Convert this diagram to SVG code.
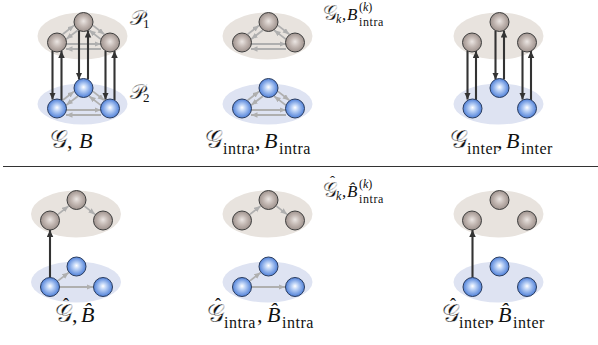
<svg xmlns="http://www.w3.org/2000/svg" xmlns:xlink="http://www.w3.org/1999/xlink" width="598" height="345" viewBox="0 0 598 345">
<style>
.gl{fill:#e8e3de}
.bl{fill:#dee3f2}
.gn{fill:url(#gg);stroke:#3d3d3d;stroke-width:1}
.bn{fill:url(#bg);stroke:#2a3c5e;stroke-width:1}
.dk{stroke:#333;stroke-width:2.1;fill:none;marker-end:url(#mdk)}
.lt{stroke:#afafaf;stroke-width:1.8;fill:none;marker-end:url(#mlt)}
text{font-family:'Liberation Serif',serif;fill:#111}
.m{font-size:22px}
.sm{font-size:16px;letter-spacing:0.5px}
.ss{font-size:12px;letter-spacing:0.6px}
.i{font-style:italic}
.cal{stroke:#fff;stroke-width:0.35px}
.big{font-size:25px}
.hat{font-size:18px}
</style>
<defs>
<radialGradient id="gg" cx="0.5" cy="0.5" r="0.5" fx="0.5" fy="0.45">
<stop offset="0" stop-color="#ebe6e3"/>
<stop offset="0.5" stop-color="#c4b9b4"/>
<stop offset="1" stop-color="#9e928d"/>
</radialGradient>
<radialGradient id="bg" cx="0.5" cy="0.5" r="0.5" fx="0.5" fy="0.45">
<stop offset="0" stop-color="#ffffff"/>
<stop offset="0.35" stop-color="#bcd2f6"/>
<stop offset="1" stop-color="#4f80d8"/>
</radialGradient>
<marker id="mdk" markerUnits="userSpaceOnUse" markerWidth="8" markerHeight="7" refX="7" refY="3.25" orient="auto"><path d="M0,0 L7,3.25 L0,6.5 z" fill="#333"/></marker>
<marker id="mlt" markerUnits="userSpaceOnUse" markerWidth="8" markerHeight="7" refX="6.5" refY="2.75" orient="auto"><path d="M0,0 L6.5,2.75 L0,5.5 z" fill="#afafaf"/></marker>
<g id="bi">
<line class="lt" x1="-20.8" y1="12.3" x2="-9.4" y2="3.4"/>
<line class="lt" x1="-5.7" y1="8.2" x2="-17.2" y2="17.1"/>
<line class="lt" x1="9.4" y1="3.4" x2="20.8" y2="12.3"/>
<line class="lt" x1="17.2" y1="17.1" x2="5.7" y2="8.2"/>
<line class="lt" x1="-17.5" y1="22" x2="17.5" y2="22"/>
<line class="lt" x1="17.5" y1="27" x2="-17.5" y2="27"/>
</g>
<g id="hg">
<line class="lt" x1="-18.6" y1="14.4" x2="-7.9" y2="6.1"/>
<line class="lt" x1="7.9" y1="6.1" x2="18.6" y2="14.4"/>
</g>
<g id="hb">
<line class="lt" x1="-18.6" y1="14.4" x2="-7.9" y2="6.1"/>
<line class="lt" x1="-16.5" y1="20.5" x2="16.5" y2="20.5"/>
</g>
</defs>

<g id="layers">
<ellipse class="gl" cx="82.5" cy="36" rx="45" ry="23.5"/>
<ellipse class="bl" cx="82.5" cy="104" rx="45" ry="20.5"/>
<ellipse class="gl" cx="267.5" cy="36" rx="45" ry="23.5"/>
<ellipse class="bl" cx="267.5" cy="104" rx="45" ry="20.5"/>
<ellipse class="gl" cx="498.5" cy="36" rx="45" ry="23.5"/>
<ellipse class="bl" cx="498.5" cy="104" rx="45" ry="20.5"/>
<ellipse class="gl" cx="76" cy="214" rx="45" ry="23.5"/>
<ellipse class="bl" cx="76" cy="282" rx="45" ry="20.5"/>
<ellipse class="gl" cx="267.5" cy="214" rx="45" ry="23.5"/>
<ellipse class="bl" cx="267.5" cy="282" rx="45" ry="20.5"/>
<ellipse class="gl" cx="498.5" cy="214" rx="45" ry="23.5"/>
<ellipse class="bl" cx="498.5" cy="282" rx="45" ry="20.5"/>
</g>

<line x1="3" y1="166.5" x2="598" y2="166.5" stroke="#333" stroke-width="1.2"/>

<g id="connectors">
<use xlink:href="#bi" x="83.5" y="22"/>
<use xlink:href="#bi" x="83.5" y="88"/>
<use xlink:href="#bi" x="268.5" y="22"/>
<use xlink:href="#bi" x="268.5" y="88"/>
<line class="dk" x1="52.5" y1="51" x2="52.5" y2="99.5"/>
<line class="dk" x1="61.5" y1="100" x2="61.5" y2="51"/>
<line class="dk" x1="79" y1="30.5" x2="79" y2="79.5"/>
<line class="dk" x1="88" y1="79.5" x2="88" y2="30.5"/>
<line class="dk" x1="105.5" y1="51" x2="105.5" y2="99.5"/>
<line class="dk" x1="114.5" y1="100" x2="114.5" y2="51"/>
<line class="dk" x1="467.5" y1="51" x2="467.5" y2="99.5"/>
<line class="dk" x1="476" y1="100" x2="476" y2="51"/>
<line class="dk" x1="495.5" y1="30.5" x2="495.5" y2="79.5"/>
<line class="dk" x1="504" y1="79.5" x2="504" y2="30.5"/>
<line class="dk" x1="522.5" y1="51" x2="522.5" y2="99.5"/>
<line class="dk" x1="531" y1="100" x2="531" y2="51"/>
<use xlink:href="#hg" x="76.5" y="200"/>
<use xlink:href="#hb" x="76.5" y="266.5"/>
<use xlink:href="#hg" x="268.5" y="200"/>
<use xlink:href="#hb" x="268.5" y="266.5"/>
<line class="dk" x1="50" y1="277.5" x2="50" y2="230"/>
<line class="dk" x1="472.5" y1="277.5" x2="472.5" y2="230"/>
</g>

<g id="A-g1"><circle class="gn" cx="83.5" cy="22" r="9.5"/></g>
<g id="A-g2"><circle class="gn" cx="57" cy="42.5" r="9.5"/></g>
<g id="A-g3"><circle class="gn" cx="110" cy="42.5" r="9.5"/></g>
<g id="A-b1"><circle class="bn" cx="83.5" cy="88" r="9.5"/></g>
<g id="A-b2"><circle class="bn" cx="57" cy="108.5" r="9.5"/></g>
<g id="A-b3"><circle class="bn" cx="110" cy="108.5" r="9.5"/></g>

<g id="B-g1"><circle class="gn" cx="268.5" cy="22" r="9.5"/></g>
<g id="B-g2"><circle class="gn" cx="242" cy="42.5" r="9.5"/></g>
<g id="B-g3"><circle class="gn" cx="295" cy="42.5" r="9.5"/></g>
<g id="B-b1"><circle class="bn" cx="268.5" cy="88" r="9.5"/></g>
<g id="B-b2"><circle class="bn" cx="242" cy="108.5" r="9.5"/></g>
<g id="B-b3"><circle class="bn" cx="295" cy="108.5" r="9.5"/></g>

<g id="C-g1"><circle class="gn" cx="499.5" cy="22" r="9.5"/></g>
<g id="C-g2"><circle class="gn" cx="472" cy="42.5" r="9.5"/></g>
<g id="C-g3"><circle class="gn" cx="527" cy="42.5" r="9.5"/></g>
<g id="C-b1"><circle class="bn" cx="499.5" cy="88" r="9.5"/></g>
<g id="C-b2"><circle class="bn" cx="472.5" cy="108.5" r="9.5"/></g>
<g id="C-b3"><circle class="bn" cx="527" cy="108.5" r="9.5"/></g>

<g id="D-g1"><circle class="gn" cx="76.5" cy="200" r="9.5"/></g>
<g id="D-g2"><circle class="gn" cx="50" cy="220.5" r="9.5"/></g>
<g id="D-g3"><circle class="gn" cx="103" cy="220.5" r="9.5"/></g>
<g id="D-b1"><circle class="bn" cx="76.5" cy="266.5" r="9.5"/></g>
<g id="D-b2"><circle class="bn" cx="50" cy="287" r="9.5"/></g>
<g id="D-b3"><circle class="bn" cx="103" cy="287" r="9.5"/></g>

<g id="E-g1"><circle class="gn" cx="268.5" cy="200" r="9.5"/></g>
<g id="E-g2"><circle class="gn" cx="242" cy="220.5" r="9.5"/></g>
<g id="E-g3"><circle class="gn" cx="295" cy="220.5" r="9.5"/></g>
<g id="E-b1"><circle class="bn" cx="268.5" cy="266.5" r="9.5"/></g>
<g id="E-b2"><circle class="bn" cx="242" cy="287" r="9.5"/></g>
<g id="E-b3"><circle class="bn" cx="295" cy="287" r="9.5"/></g>

<g id="F-g1"><circle class="gn" cx="499.5" cy="200" r="9.5"/></g>
<g id="F-g2"><circle class="gn" cx="472" cy="220.5" r="9.5"/></g>
<g id="F-g3"><circle class="gn" cx="527" cy="220.5" r="9.5"/></g>
<g id="F-b1"><circle class="bn" cx="499.5" cy="266.5" r="9.5"/></g>
<g id="F-b2"><circle class="bn" cx="472.5" cy="287" r="9.5"/></g>
<g id="F-b3"><circle class="bn" cx="527" cy="287" r="9.5"/></g>

<g id="labels" font-family="'Liberation Serif', serif">
<text y="25" style="font-size:21px"><tspan class="cal" x="130">𝒫</tspan><tspan x="143" y="28" style="font-size:13px">1</tspan></text>
<text y="99" style="font-size:21px"><tspan class="cal" x="130">𝒫</tspan><tspan x="143" y="102" style="font-size:13px">2</tspan></text>

<text y="20" style="font-size:17px"><tspan class="cal" x="323" style="font-size:20px">𝒢</tspan><tspan class="i" x="336" y="23" style="font-size:12px">k</tspan><tspan x="342" y="20">,</tspan><tspan class="i" x="347">B</tspan><tspan x="359" y="11" style="font-size:12px">(<tspan class="i">k</tspan>)</tspan><tspan class="ss" x="359" y="26">intra</tspan></text>
<text y="197" style="font-size:17px"><tspan class="cal" x="323" style="font-size:20px">𝒢</tspan><tspan x="330" y="186" style="font-size:15px">ˆ</tspan><tspan class="i" x="336" y="200" style="font-size:12px">k</tspan><tspan x="342" y="197">,</tspan><tspan class="i" x="347">B̂</tspan><tspan x="359" y="188" style="font-size:12px">(<tspan class="i">k</tspan>)</tspan><tspan class="ss" x="359" y="203">intra</tspan></text>

<text class="m" y="148"><tspan class="cal big" x="50">𝒢</tspan><tspan x="67">,</tspan><tspan class="i" x="79">B</tspan></text>
<text class="m" y="148"><tspan class="cal big" x="205">𝒢</tspan><tspan class="sm" x="223" y="153.5">intra</tspan><tspan x="255" y="148">,</tspan><tspan class="i" x="264">B</tspan><tspan class="sm" x="279" y="153.5">intra</tspan></text>
<text class="m" y="148"><tspan class="cal big" x="450">𝒢</tspan><tspan class="sm" x="467" y="153.5">inter</tspan><tspan x="497" y="148">,</tspan><tspan class="i" x="506">B</tspan><tspan class="sm" x="521" y="153.5">inter</tspan></text>

<text class="m" y="322"><tspan class="cal big" x="55">𝒢</tspan><tspan class="hat" x="63" y="311">ˆ</tspan><tspan x="72" y="322">,</tspan><tspan class="i" x="81">B̂</tspan></text>
<text class="m" y="322"><tspan class="cal big" x="207">𝒢</tspan><tspan class="hat" x="215" y="311">ˆ</tspan><tspan class="sm" x="224" y="327.5">intra</tspan><tspan x="257" y="322">,</tspan><tspan class="i" x="267">B̂</tspan><tspan class="sm" x="282" y="327.5">intra</tspan></text>
<text class="m" y="322"><tspan class="cal big" x="442">𝒢</tspan><tspan class="hat" x="450" y="311">ˆ</tspan><tspan class="sm" x="459" y="327.5">inter</tspan><tspan x="489" y="322">,</tspan><tspan class="i" x="498">B̂</tspan><tspan class="sm" x="513" y="327.5">inter</tspan></text>
</g>
</svg>
